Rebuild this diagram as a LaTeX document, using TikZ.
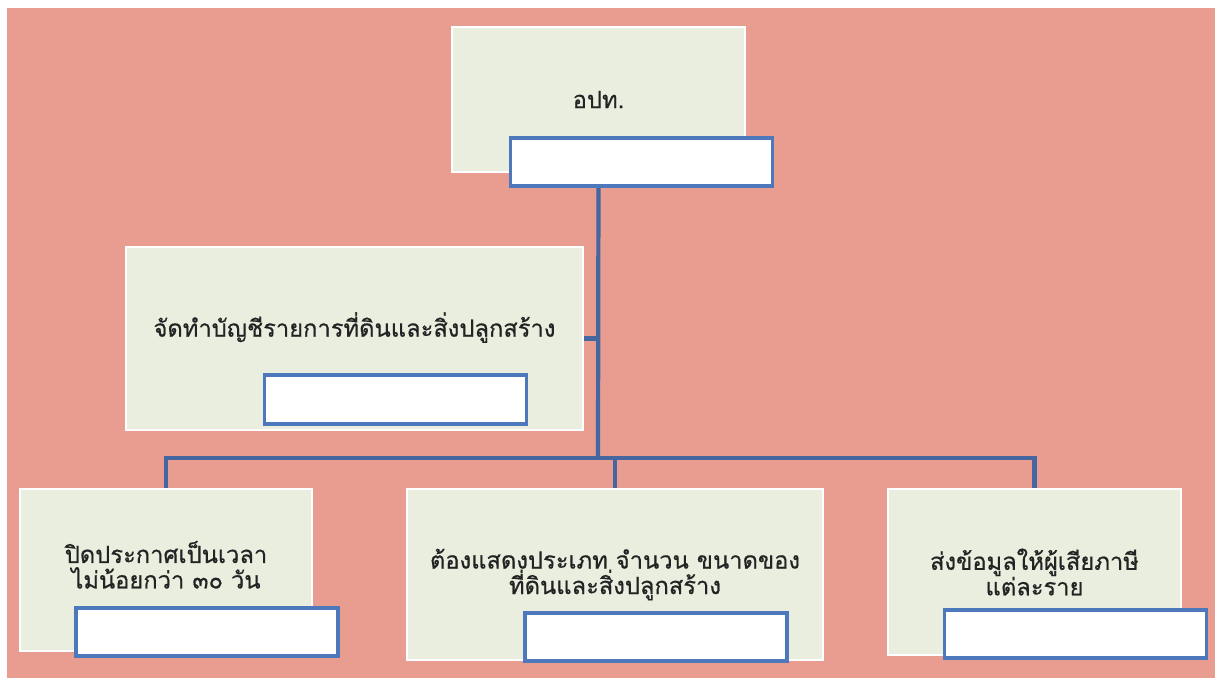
\documentclass[tikz,border=0pt]{standalone}
\usepackage{fontspec}
\usepackage{xcolor}
\usepackage{tikz}
\usetikzlibrary{positioning}
\newfontfamily\thaifont[Script=Thai,FakeBold=0.6]{Loma}
\definecolor{salmon}{RGB}{233,157,144}
\definecolor{unitfill}{RGB}{233,238,223}
\definecolor{linkblue}{RGB}{70,102,160}
\definecolor{tagblue}{RGB}{78,120,188}
\definecolor{inktext}{RGB}{35,35,35}

\tikzset{
	unit/.style={draw=white,line width=1.6pt,fill=unitfill,align=center,text=inktext,font=\thaifont\fontsize{13.5}{14.5}\selectfont,inner sep=0pt},
	tagbox/.style={draw=tagblue,line width=2.2pt,fill=white,minimum width=5.24cm,minimum height=0.97cm,inner sep=0pt},
	link/.style={draw=linkblue,line width=2.4pt}
}

\begin{document}
\begin{tikzpicture}[x=0.02cm,y=-0.02cm]
				\useasboundingbox (0,0) rectangle (1215,678);
				\fill[salmon] (7,8) rectangle (1215,678);
				
				\coordinate (c1) at (598.5,99.5);%top
				\coordinate (c2) at (354.5,338.5);%list
				\coordinate (c3) at (166,570);%post
				\coordinate (c4) at (615,574.5);%show
				\coordinate (c5) at (1034.5,572);%send
				\coordinate (bus) at (598,458);%branch line
				
				\node[unit,minimum width=5.86cm,minimum height=2.9cm] (top) at (c1) {อปท.};
				\node[unit,minimum width=9.14cm,minimum height=3.66cm] (list) at (c2) {จัดทำบัญชีรายการที่ดินและสิ่งปลูกสร้าง\\[0.05cm]};
				\node[unit,minimum width=5.84cm,minimum height=3.24cm] (post) at (c3) {ปิดประกาศเป็นเวลา\\ไม่น้อยกว่า ๓๐ วัน\\[-0.3cm]};
				\node[unit,minimum width=8.32cm,minimum height=3.42cm] (show) at (c4) {ต้องแสดงประเภท จำนวน ขนาดของ\\ที่ดินและสิ่งปลูกสร้าง};
				\node[unit,minimum width=5.86cm,minimum height=3.32cm] (send) at (c5) {ส่งข้อมูลให้ผู้เสียภาษี\\แต่ละราย};
				
				\draw[link] (top.south) -- (bus);
				\draw[link] (list.east) -- (list.east -| bus);
				\draw[link] (post.north) |- (bus) -| (send.north);
				\draw[link] (show.north) -- (show.north |- bus);
				
				\node[tagbox] (toptag) at (641.5,162) {};
				\node[tagbox] (listtag) at (395.5,399.5) {};
				\node[tagbox] (posttag) at (207,632) {};
				\node[tagbox] (showtag) at (656,637) {};
				\node[tagbox] (sendtag) at (1075.5,634) {};
			\end{tikzpicture}
\end{document}
